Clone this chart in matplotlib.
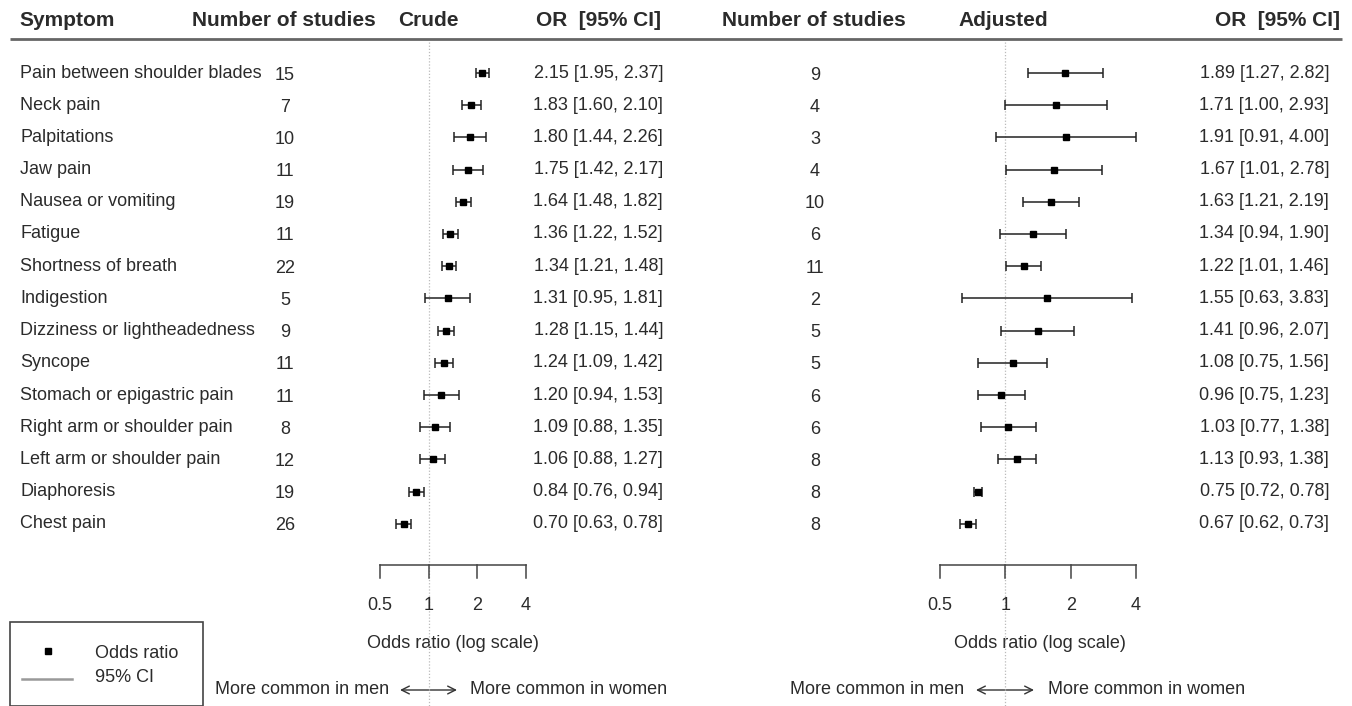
import matplotlib
matplotlib.use("Agg")
import matplotlib.pyplot as plt
import numpy as np

plt.rcParams['font.family'] = ['Liberation Sans', 'DejaVu Sans']

symptoms = ["Pain between shoulder blades", "Neck pain", "Palpitations", "Jaw pain",
            "Nausea or vomiting", "Fatigue", "Shortness of breath", "Indigestion",
            "Dizziness or lightheadedness", "Syncope", "Stomach or epigastric pain",
            "Right arm or shoulder pain", "Left arm or shoulder pain", "Diaphoresis",
            "Chest pain"]

crude_n = [15, 7, 10, 11, 19, 11, 22, 5, 9, 11, 11, 8, 12, 19, 26]
crude_or = [2.15, 1.83, 1.80, 1.75, 1.64, 1.36, 1.34, 1.31, 1.28, 1.24, 1.20, 1.09, 1.06, 0.84, 0.70]
crude_lo = [1.95, 1.60, 1.44, 1.42, 1.48, 1.22, 1.21, 0.95, 1.15, 1.09, 0.94, 0.88, 0.88, 0.76, 0.63]
crude_hi = [2.37, 2.10, 2.26, 2.17, 1.82, 1.52, 1.48, 1.81, 1.44, 1.42, 1.53, 1.35, 1.27, 0.94, 0.78]

adj_n = [9, 4, 3, 4, 10, 6, 11, 2, 5, 5, 6, 6, 8, 8, 8]
adj_or = [1.89, 1.71, 1.91, 1.67, 1.63, 1.34, 1.22, 1.55, 1.41, 1.08, 0.96, 1.03, 1.13, 0.75, 0.67]
adj_lo = [1.27, 1.00, 0.91, 1.01, 1.21, 0.94, 1.01, 0.63, 0.96, 0.75, 0.75, 0.77, 0.93, 0.72, 0.62]
adj_hi = [2.82, 2.93, 4.00, 2.78, 2.19, 1.90, 1.46, 3.83, 2.07, 1.56, 1.23, 1.38, 1.38, 0.78, 0.73]

ticks = [0.5, 1, 2, 4]
tick_labels = ["0.5", "1", "2", "4"]

W, H = 1352, 706
fig = plt.figure(figsize=(W / 100, H / 100), dpi=100)

bg = fig.add_axes([0, 0, 1, 1])
bg.set_xlim(0, W)
bg.set_ylim(H, 0)
bg.axis('off')

TXT = '#2b2b2b'
row0, dy = 73, 32.2
rows = row0 + dy * np.arange(len(symptoms))

body_fs = 13
head_fs = 15

# header
bg.text(19, 20, "Symptom", fontsize=head_fs, fontweight='bold', color=TXT, va='center', ha='left')
bg.text(192, 20, "Number of studies", fontsize=head_fs, fontweight='bold', color=TXT, va='center', ha='left')
bg.text(398, 20, "Crude", fontsize=head_fs, fontweight='bold', color=TXT, va='center', ha='left')
bg.text(661, 20, "OR  [95% CI]", fontsize=head_fs, fontweight='bold', color=TXT, va='center', ha='right')
bg.text(722, 20, "Number of studies", fontsize=head_fs, fontweight='bold', color=TXT, va='center', ha='left')
bg.text(958, 20, "Adjusted", fontsize=head_fs, fontweight='bold', color=TXT, va='center', ha='left')
bg.text(1340, 20, "OR  [95% CI]", fontsize=head_fs, fontweight='bold', color=TXT, va='center', ha='right')
bg.plot([10, 1342], [39, 39], color='#666666', lw=2.0, solid_capstyle='butt')

for i, y in enumerate(rows):
    bg.text(20, y, symptoms[i], fontsize=body_fs, color=TXT, va='center', ha='left')
    bg.text(285, y + 2, str(crude_n[i]), fontsize=body_fs, color=TXT, va='center', ha='center')
    bg.text(663, y, f"{crude_or[i]:.2f} [{crude_lo[i]:.2f}, {crude_hi[i]:.2f}]",
            fontsize=body_fs, color=TXT, va='center', ha='right')
    bg.text(815, y + 2, str(adj_n[i]), fontsize=body_fs, color=TXT, va='center', ha='center')
    bg.text(1329, y, f"{adj_or[i]:.2f} [{adj_lo[i]:.2f}, {adj_hi[i]:.2f}]",
            fontsize=body_fs, color=TXT, va='center', ha='right')


def forest(x0, x1, orv, lo, hi, cap):
    ax = fig.add_axes([x0 / W, 0, (x1 - x0) / W, 1])
    ax.set_xscale('log')
    ax.set_xlim(0.5, 4)
    ax.set_ylim(H, 0)
    ax.axis('off')
    ax.plot([1, 1], [42, H], color='#bbbbbb', lw=0.9, ls=(0, (1, 1.5)), clip_on=False)
    ax.hlines(rows, lo, hi, color='#222222', lw=1.1, clip_on=False)
    ax.vlines(lo, rows - cap, rows + cap, color='#222222', lw=1.1, clip_on=False)
    ax.vlines(hi, rows - cap, rows + cap, color='#222222', lw=1.1, clip_on=False)
    ax.plot(orv, rows, ls='none', marker='s', ms=5, color='black', clip_on=False)
    # axis bracket
    ax.plot([ticks[0], ticks[-1]], [565, 565], color='#444444', lw=1.1, clip_on=False)
    for t, lab in zip(ticks, tick_labels):
        ax.plot([t, t], [565, 578], color='#444444', lw=1.1, clip_on=False)
        ax.text(t, 605, lab, fontsize=body_fs, color=TXT, ha='center', va='center')
    return ax


axl = forest(380, 526, crude_or, crude_lo, crude_hi, 5)
axr = forest(940, 1136, adj_or, adj_lo, adj_hi, 5)

bg.text(453, 643, "Odds ratio (log scale)", fontsize=body_fs, color=TXT, ha='center', va='center')
bg.text(1040, 643, "Odds ratio (log scale)", fontsize=body_fs, color=TXT, ha='center', va='center')

for (xm, xw, xa0, xa1) in [(389, 470, 400, 457), (964, 1048, 976, 1034)]:
    bg.text(xm, 690, "More common in men", fontsize=body_fs, color=TXT, ha='right', va='center')
    bg.text(xw, 690, "More common in women", fontsize=body_fs, color=TXT, ha='left', va='center')
    bg.annotate("", xy=(xa1, 690), xytext=(xa0, 690),
                arrowprops=dict(arrowstyle='<->', color='#333333', lw=1.0, mutation_scale=14,
                                shrinkA=0, shrinkB=0))

# legend box
bg.add_patch(plt.Rectangle((10, 622), 193, 84, fill=False, edgecolor='#444444', lw=1.2, clip_on=False))
bg.plot([48], [651], ls='none', marker='s', ms=5, color='black')
bg.text(95, 653, "Odds ratio", fontsize=body_fs, color=TXT, ha='left', va='center')
bg.plot([22, 72], [679, 679], color='#999999', lw=1.8)
bg.text(95, 678, "95% CI", fontsize=body_fs, color=TXT, ha='left', va='center')

fig.savefig("out.png", dpi=100)
